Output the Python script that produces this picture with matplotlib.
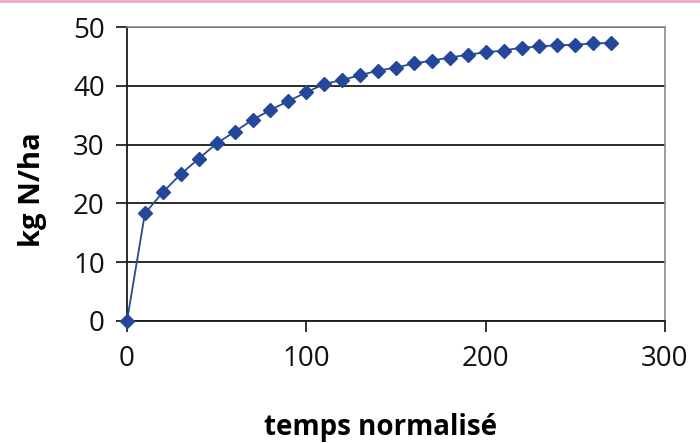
import matplotlib
matplotlib.use("Agg")
import matplotlib.pyplot as plt
from matplotlib.lines import Line2D

# cumulative N release over normalised time
temps = [0, 10, 20, 30, 40, 50, 60, 70, 80, 90, 100, 110, 120, 130,
         140, 150, 160, 170, 180, 190, 200, 210, 220, 230, 240, 250, 260, 270]
azote = [0, 18.3, 21.9, 25.0, 27.6, 30.2, 32.2, 34.2, 35.9, 37.4, 38.9, 40.3,
         41.0, 41.8, 42.6, 43.1, 43.8, 44.3, 44.8, 45.3, 45.7, 46.0, 46.5,
         46.7, 46.9, 47.0, 47.2, 47.3]
xticks = [0, 100, 200, 300]
yticks = [0, 10, 20, 30, 40, 50]

plt.rcParams["font.family"] = ["Open Sans", "DejaVu Sans"]

fig = plt.figure(figsize=(7, 4.43), dpi=100)
ax = fig.add_axes([0.1814, 0.2754, 0.7686, 0.6636])

ax.plot(temps, azote, color="#2b4a8c", lw=1.3, marker="D", markersize=7.5,
        markerfacecolor="#24479a", markeredgecolor="#24479a", zorder=3,
        clip_on=False)

ax.set_xlim(0, 300)
ax.set_ylim(0, 50)
ax.set_xticks(xticks)
ax.set_yticks(yticks)
ax.grid(axis="y", color="#1a1a1a", lw=1.3)
ax.set_axisbelow(True)

for side in ("top", "right"):
    ax.spines[side].set_color("#8a8a8a")
    ax.spines[side].set_linewidth(1.2)
for side in ("left", "bottom"):
    ax.spines[side].set_color("#1a1a1a")
    ax.spines[side].set_linewidth(1.3)

ax.tick_params(axis="both", labelsize=20, colors="#111111", width=1.2,
               length=8)
ax.tick_params(axis="x", pad=9)
ax.tick_params(axis="y", pad=8)

ax.set_xlabel("temps normalisé", fontsize=20, fontweight="bold")
ax.set_ylabel("kg N/ha", fontsize=21, fontweight="bold")
ax.xaxis.set_label_coords(0.472, -0.314)
ax.yaxis.set_label_coords(-0.149, 0.446)

# thin pink rule along the top edge
fig.add_artist(Line2D([0, 1], [0.998, 0.998], transform=fig.transFigure,
                      color="#f0a8cc", lw=2))

fig.savefig("out.png", dpi=100)
